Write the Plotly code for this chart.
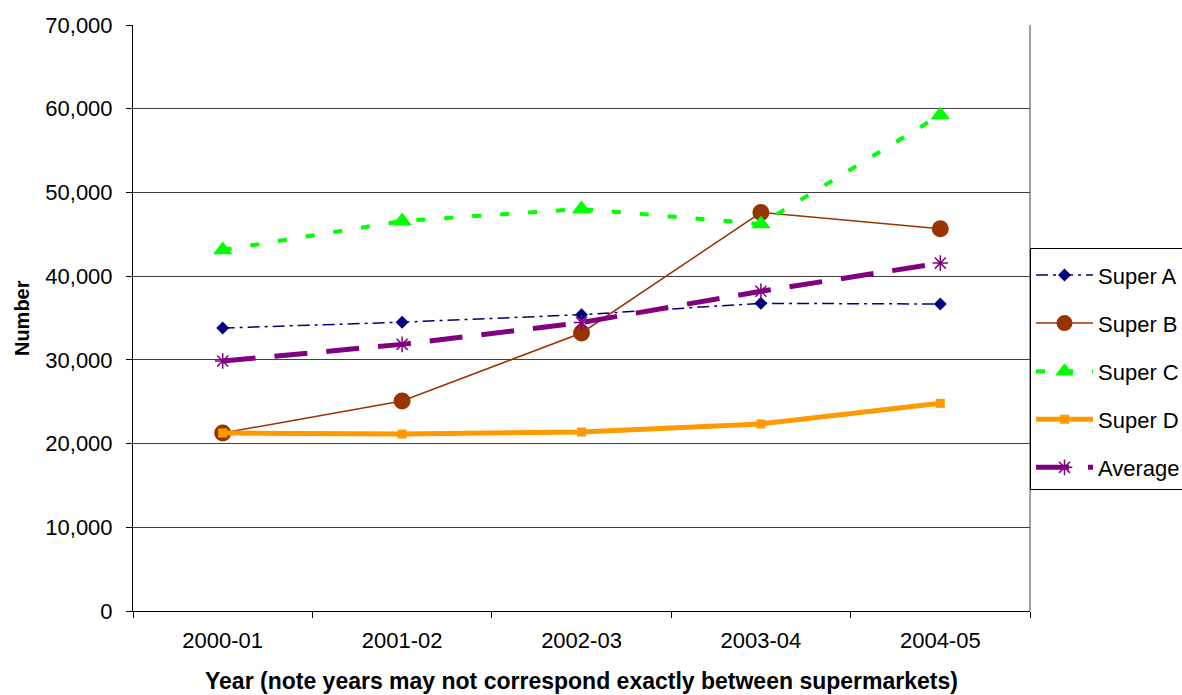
import plotly.graph_objects as go

# Annual figures per supermarket
years = ["2000-01", "2001-02", "2002-03", "2003-04", "2004-05"]
super_a = [33800, 34500, 35400, 36750, 36670]
super_b = [21260, 25090, 33210, 47600, 45650]
super_c = [43120, 46590, 48020, 46230, 59250]
super_d = [21260, 21140, 21380, 22340, 24810]
average = [29860, 31850, 34450, 38200, 41560]

y_ticks = [0, 10000, 20000, 30000, 40000, 50000, 60000, 70000]

FONT = "Liberation Sans, Arial, sans-serif"

fig = go.Figure()

fig.add_trace(go.Scatter(
    x=years, y=super_a, name="Super A", mode="lines+markers",
    line=dict(color="#000080", width=1.5, dash="12px,5px,3px,5px"),
    marker=dict(symbol="diamond", size=10, color="#000080"),
    legendgroup="a",
))
fig.add_trace(go.Scatter(
    x=years, y=super_b, name="Super B", mode="lines+markers",
    line=dict(color="#993300", width=1.5),
    marker=dict(symbol="circle", size=17, color="#993300"),
    legendgroup="b",
))
fig.add_trace(go.Scatter(
    x=years, y=super_c, name="Super C", mode="lines+markers",
    line=dict(color="#00FF00", width=4, dash="9px,19px"),
    marker=dict(symbol="triangle-up", size=17, color="#00FF00"),
    legendgroup="c",
))
fig.add_trace(go.Scatter(
    x=years, y=super_d, name="Super D", mode="lines+markers",
    line=dict(color="#FF9900", width=5),
    marker=dict(symbol="square", size=9, color="#FF9900"),
    legendgroup="d",
))
fig.add_trace(go.Scatter(
    x=years, y=average, name="Average", mode="lines+markers",
    line=dict(color="#800080", width=5, dash="33px,19px"),
    marker=dict(symbol="asterisk-open", size=13,
                line=dict(color="#800080", width=1.5)),
    legendgroup="e",
))

fig.update_layout(
    width=1182, height=695,
    margin=dict(l=133, r=152, t=25, b=84, autoexpand=False),
    paper_bgcolor="white", plot_bgcolor="white",
    font=dict(family=FONT, size=22, color="black"),
    showlegend=True,
    legend=dict(
        x=1.0, y=0.6195, xanchor="left", yanchor="top",
        bordercolor="black", borderwidth=1, bgcolor="white",
        font=dict(family=FONT, size=22, color="black"),
        tracegroupgap=16.5, itemwidth=57,
        title=dict(text="&nbsp;", font=dict(size=4)),
    ),
    xaxis=dict(
        type="category", range=[-0.5, 4.5],
        showgrid=False, showline=True, linecolor="black", linewidth=1,
        ticks="outside", tickson="boundaries", ticklen=6, tickcolor="black",
        tickfont=dict(family=FONT, size=22), mirror=False,
        ticklabelstandoff=10,
    ),
    yaxis=dict(
        range=[0, 70000], tickvals=y_ticks,
        ticktext=[f"{v:,}" for v in y_ticks],
        showgrid=True, gridcolor="#404040", gridwidth=1,
        showline=True, linecolor="black", linewidth=1,
        ticks="outside", ticklen=6, tickcolor="black",
        tickfont=dict(family=FONT, size=22), zeroline=False,
        ticklabelstandoff=9,
    ),
    annotations=[
        dict(text="<b>Year (note years may not correspond exactly between supermarkets)</b>",
             xref="paper", yref="paper", x=0.5, y=-0.1195,
             xanchor="center", yanchor="middle", showarrow=False,
             font=dict(family=FONT, size=23)),
        dict(text="<b>Number</b>", textangle=-90,
             xref="paper", yref="paper", x=-0.1237, y=0.5,
             xanchor="center", yanchor="middle", showarrow=False,
             font=dict(family=FONT, size=20)),
    ],
    shapes=[
        dict(type="line", xref="paper", yref="paper", x0=1, x1=1, y0=0, y1=1,
             line=dict(color="#404040", width=1)),
    ],
)

fig.write_html("out.html")
